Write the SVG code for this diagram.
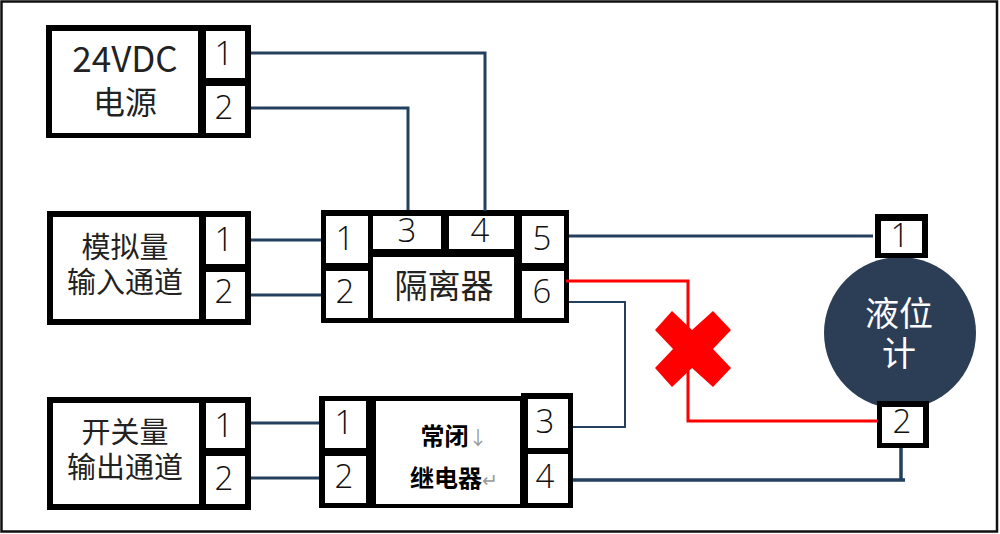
<svg xmlns="http://www.w3.org/2000/svg" width="1000" height="534" viewBox="0 0 1000 534">
<style>
.k{fill:#000}
.w{fill:#fff}
.t{font-family:"Noto Sans CJK SC","Noto Sans",sans-serif;fill:#222;text-anchor:middle}
.n{font-family:"Open Sans","Noto Sans",sans-serif;fill:#111;text-anchor:middle;font-size:33px;font-weight:300}
.c{fill:none;stroke:#24405f;stroke-width:3}
.r{fill:none;stroke:#f00;stroke-width:3}
.g{fill:#999;font-weight:400;font-size:19px}
</style>
<rect width="1000" height="534" fill="#fff"/>
<rect x="1.500" y="1.500" width="995.500" height="530" fill="none" stroke="#111" stroke-width="2.500"/>
<g id="power">
<rect class="k" x="46" y="25" width="205" height="113"/>
<rect class="w" x="52" y="31" width="146" height="102"/>
<rect class="w" x="206" y="31" width="39" height="47"/>
<rect class="w" x="206" y="86" width="39" height="47"/>
<text class="t" x="125" font-size="35"><tspan x="125" y="72">24VDC</tspan><tspan x="125" y="114" font-size="32">电源</tspan></text>
<text class="n" x="224" y="65">1</text>
<text class="n" x="224" y="119">2</text>
</g>
<g id="analog">
<rect class="k" x="47" y="211" width="204" height="114"/>
<rect class="w" x="53" y="217" width="146" height="102"/>
<rect class="w" x="206" y="217" width="39" height="47"/>
<rect class="w" x="206" y="272" width="39" height="47"/>
<text class="t" x="125" font-size="29"><tspan x="125" y="258">模拟量</tspan><tspan x="125" y="293">输入通道</tspan></text>
<text class="n" x="224" y="251">1</text>
<text class="n" x="224" y="303">2</text>
</g>
<g id="switch">
<rect class="k" x="47" y="397" width="204" height="113"/>
<rect class="w" x="53" y="403" width="146" height="101"/>
<rect class="w" x="206" y="403" width="39" height="45"/>
<rect class="w" x="206" y="456" width="39" height="48"/>
<text class="t" x="125" font-size="29"><tspan x="125" y="443">开关量</tspan><tspan x="125" y="478">输出通道</tspan></text>
<text class="n" x="224" y="437">1</text>
<text class="n" x="224" y="490">2</text>
</g>
<g id="isolator">
<rect class="k" x="321" y="210" width="248" height="113"/>
<rect class="w" x="326" y="216" width="42" height="47"/>
<rect class="w" x="326" y="271" width="42" height="47"/>
<rect class="w" x="373" y="216" width="68" height="33"/>
<rect class="w" x="449" y="216" width="65" height="33"/>
<rect class="w" x="373" y="257" width="141" height="61"/>
<rect class="w" x="522" y="216" width="42" height="47"/>
<rect class="w" x="522" y="271" width="42" height="47"/>
<text class="t" x="444" y="298" font-size="33">隔离器</text>
<text class="n" x="345" y="250">1</text>
<text class="n" x="345" y="303">2</text>
<text class="n" x="407" y="242">3</text>
<text class="n" x="480" y="242">4</text>
<text class="n" x="542" y="250">5</text>
<text class="n" x="542" y="303">6</text>
</g>
<g id="relay">
<rect class="k" x="319" y="396" width="210" height="112"/>
<rect class="k" x="521" y="393" width="52" height="115"/>
<rect class="w" x="325" y="401" width="41" height="47"/>
<rect class="w" x="325" y="456" width="41" height="47"/>
<rect class="w" x="376" y="401" width="144" height="103"/>
<rect class="w" x="528" y="399" width="40" height="49"/>
<rect class="w" x="528" y="454" width="40" height="49"/>
<text class="t" x="454" font-size="24" font-weight="700" style="fill:#000"><tspan x="454" y="445">常闭<tspan class="g">↓</tspan></tspan><tspan x="454" y="487">继电器<tspan class="g">↵</tspan></tspan></text>
<text class="n" x="344" y="434">1</text>
<text class="n" x="344" y="488">2</text>
<text class="n" x="545" y="433">3</text>
<text class="n" x="545" y="488">4</text>
</g>
<g id="gauge">
<circle cx="900" cy="333" r="76" fill="#2c3e55"/>
<text class="t" x="899" font-size="34" style="fill:#fff"><tspan x="899" y="326">液位</tspan><tspan x="899" y="366">计</tspan></text>
<rect class="k" x="875" y="214" width="53" height="44"/>
<rect class="w" x="881" y="221" width="41" height="32"/>
<text class="n" x="900" y="247">1</text>
<rect class="k" x="877" y="401" width="52" height="47"/>
<rect class="w" x="882" y="407" width="41" height="36"/>
<text class="n" x="902" y="433">2</text>
</g>
<g id="connectors">
<path class="c" d="M251 53H485V211"/>
<path class="c" d="M251 108H408V210"/>
<path class="c" d="M251 240H321"/>
<path class="c" d="M251 295H321"/>
<path class="c" d="M251 423H319"/>
<path class="c" d="M251 478H319"/>
<path class="c" d="M569 236H873"/>
<path class="c" style="stroke-width:2" d="M569 302H625V427H573"/>
<path class="c" style="stroke-width:3.500" d="M573 480H905M901 480V448"/>
<path class="r" d="M566 281H688V421H878"/>
</g>
<polygon id="fault-cross" fill="#f00" points="672,311 692,330 713,311 731,330 713,349 731,368 713,387 692,368 672,387 655,368 673,349 655,330"/>
</svg>
